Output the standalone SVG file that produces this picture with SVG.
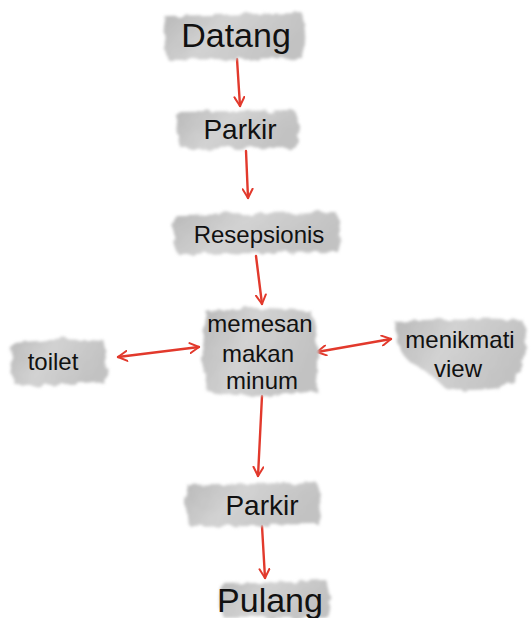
<svg xmlns="http://www.w3.org/2000/svg" width="532" height="618" viewBox="0 0 532 618">
  <style>
    .blob { fill: url(#wash); filter: url(#rough); }
    .lbl { font-family: "Liberation Sans", "DejaVu Sans", sans-serif; fill: #111; text-anchor: middle; }
    .big { font-size: 34px; }
    .mid { font-size: 28px; }
    .sm { font-size: 24px; }
    .edge { fill: none; stroke: #e2392c; stroke-width: 2.4; stroke-linecap: round; }
  </style>
  <defs>
    <linearGradient id="wash" x1="0" y1="0" x2="1" y2="0.3">
      <stop offset="0" stop-color="#b9b9b9"/>
      <stop offset="0.45" stop-color="#d2d2d2"/>
      <stop offset="1" stop-color="#c2c2c2"/>
    </linearGradient>
    <filter id="rough" x="-10%" y="-25%" width="120%" height="150%">
      <feTurbulence type="fractalNoise" baseFrequency="0.09" numOctaves="2" seed="3" result="n"/>
      <feDisplacementMap in="SourceGraphic" in2="n" scale="8" result="d"/>
      <feGaussianBlur in="d" stdDeviation="1.8"/>
    </filter>
    <marker id="head" viewBox="0 0 12 12" refX="10" refY="6" markerWidth="12" markerHeight="12" markerUnits="userSpaceOnUse" orient="auto-start-reverse">
      <path d="M1,1 L10,6 L1,11" fill="none" stroke="#e2392c" stroke-width="2" stroke-linecap="round" stroke-linejoin="round"/>
    </marker>
  </defs>

  <!-- connectors -->
  <g id="connectors">
    <path class="edge" d="M237,59 L240,106" marker-end="url(#head)"/>
    <path class="edge" d="M246,151 L248,198" marker-end="url(#head)"/>
    <path class="edge" d="M256,256 L262,304" marker-end="url(#head)"/>
    <path class="edge" d="M118,357 L199,347" marker-start="url(#head)" marker-end="url(#head)"/>
    <path class="edge" d="M317,352 L391,339" marker-start="url(#head)" marker-end="url(#head)"/>
    <path class="edge" d="M262,396 L258,476" marker-end="url(#head)"/>
    <path class="edge" d="M262,526 L265,578" marker-end="url(#head)"/>
  </g>

  <g id="datang">
    <path class="blob" d="M166,16 L302,13 Q308,35 303,58 L168,60 Q160,38 166,16 Z"/>
    <text class="lbl big" x="236" y="47">Datang</text>
  </g>

  <g id="parkir1">
    <path class="blob" d="M180,112 L294,110 Q302,128 296,148 L182,149 Q172,130 180,112 Z"/>
    <text class="lbl mid" x="240" y="139">Parkir</text>
  </g>

  <g id="resepsionis">
    <path class="blob" d="M176,214 L336,212 Q345,232 338,252 L178,254 Q169,234 176,214 Z"/>
    <text class="lbl sm" x="259" y="243">Resepsionis</text>
  </g>

  <g id="makan">
    <path class="blob" d="M206,312 Q260,304 312,312 Q322,350 316,392 Q262,400 208,392 Q198,350 206,312 Z"/>
    <text class="lbl sm" x="260" y="332">memesan</text>
    <text class="lbl sm" x="258" y="362">makan</text>
    <text class="lbl sm" x="262" y="389">minum</text>
  </g>

  <g id="toilet">
    <path class="blob" d="M14,342 Q60,336 104,340 Q110,362 104,382 Q58,388 14,384 Q7,362 14,342 Z"/>
    <text class="lbl sm" x="53" y="370">toilet</text>
  </g>

  <g id="view">
    <path class="blob" d="M396,322 Q460,316 522,320 Q530,340 524,360 Q520,380 500,388 Q470,392 445,388 Q430,372 410,362 Q392,345 396,322 Z"/>
    <text class="lbl sm" x="460" y="348">menikmati</text>
    <text class="lbl sm" x="458" y="377">view</text>
  </g>

  <g id="parkir2">
    <path class="blob" d="M188,486 L316,482 Q324,503 318,524 L190,526 Q181,505 188,486 Z"/>
    <text class="lbl mid" x="262" y="515">Parkir</text>
  </g>

  <g id="pulang">
    <path class="blob" d="M222,583 L326,580 Q334,600 328,618 L224,618 Q216,600 222,583 Z"/>
    <text class="lbl big" x="270" y="612">Pulang</text>
  </g>
</svg>
